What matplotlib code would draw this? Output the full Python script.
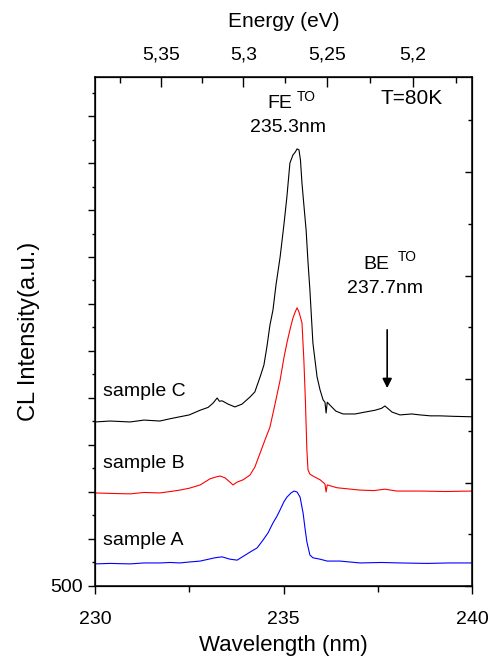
import numpy as np
import matplotlib
matplotlib.use("Agg")
import matplotlib.pyplot as plt
from matplotlib.ticker import MultipleLocator, NullFormatter, FixedLocator, FuncFormatter

plt.rcParams["font.family"] = ["Liberation Sans", "DejaVu Sans"]

# ── spectra (wavelength nm, CL intensity a.u.) ───────────────────────────────
wl_c = [230.00, 230.40, 230.93, 231.30, 231.72, 232.00, 232.25, 232.50, 232.79,
        233.00, 233.13, 233.24, 233.30, 233.37, 233.53,
        233.71, 233.90, 234.11, 234.24, 234.38, 234.48, 234.56, 234.64, 234.72,
        234.80, 234.91, 235.01, 235.09, 235.17, 235.25, 235.31, 235.36, 235.41,
        235.45, 235.49, 235.54, 235.60, 235.65, 235.70, 235.78, 235.89, 235.97,
        236.05, 236.10, 236.13, 236.16, 236.23, 236.39, 236.58, 236.90, 237.16,
        237.43, 237.60, 237.69, 237.88, 238.09, 238.40, 238.62, 238.90, 239.15,
        239.50, 240.00]
int_c = [849, 851, 849, 853, 851, 856, 860, 864, 874,
         880, 889, 900, 893, 894, 887,
         881, 887, 902, 913, 945, 970, 1009, 1055, 1087,
         1140, 1200, 1268, 1328, 1400, 1417, 1423, 1430, 1428,
         1406, 1357, 1311, 1257, 1189, 1130, 1017, 945, 917,
         896, 891, 868, 891, 885, 872, 866, 866, 870,
         874, 878, 883, 870, 864, 866, 864, 862, 862,
         861, 860]

wl_b = [230.00, 230.40, 230.93, 231.30, 231.72, 232.00, 232.25, 232.50, 232.79,
        233.05, 233.21, 233.32, 233.45,
        233.58, 233.66, 233.77, 233.93, 234.11, 234.24, 234.38, 234.51, 234.64,
        234.77, 234.91, 235.01, 235.09, 235.17, 235.25, 235.31, 235.36, 235.41,
        235.49, 235.54, 235.58, 235.62, 235.65, 235.70, 235.78, 235.97, 236.10,
        236.13, 236.16, 236.42, 237.03, 237.40, 237.69, 238.00, 238.62, 239.30,
        240.00]
int_b = [698, 697, 696, 699, 698, 701, 704, 708, 715,
         728, 732, 734, 730,
         721, 715, 721, 726, 736, 753, 783, 811, 838,
         885, 938, 985, 1017, 1045, 1070, 1083, 1092, 1083,
         1060, 981, 896, 789, 747, 738, 734, 726, 717,
         700, 715, 709, 704, 703, 706, 702, 702, 701,
         702]

wl_a = [230.00, 230.40, 230.93, 231.30, 231.72, 232.00, 232.25, 232.50, 232.79,
        233.18, 233.37, 233.58, 233.77,
        234.11, 234.30, 234.46, 234.59, 234.72, 234.83, 234.91, 235.01, 235.09,
        235.20, 235.28, 235.36, 235.44, 235.52, 235.57, 235.62, 235.70, 235.78,
        235.97, 236.16, 236.50, 237.03, 237.60, 238.09, 238.80, 239.40, 240.00]
int_a = [547, 548, 547, 549, 549, 550, 549, 551, 553,
         560, 562, 557, 555,
         572, 581, 598, 613, 634, 649, 662, 679, 689,
         698, 702, 700, 689, 655, 623, 594, 566, 560,
         557, 553, 553, 549, 550, 549, 548, 549, 549]

energy_major = [5.35, 5.30, 5.25, 5.20]
energy_minor = [5.375, 5.325, 5.275, 5.225, 5.175]
energy_labels = ["5,35", "5,3", "5,25", "5,2"]
HC = 1239.84  # eV nm

fig = plt.figure(figsize=(4.91, 6.57), dpi=100)
ax = fig.add_axes([0.1935, 0.1081, 0.7678, 0.7747])

ax.plot(wl_c, int_c, color="black", lw=0.8)
ax.plot(wl_b, int_b, color="#ff0000", lw=0.8)
ax.plot(wl_a, int_a, color="#0000ff", lw=0.8)

ax.set_xlim(230, 240)
ax.set_ylim(500, 1583)
ax.xaxis.set_major_locator(MultipleLocator(5))
ax.xaxis.set_minor_locator(MultipleLocator(2.5))
ax.yaxis.set_major_locator(MultipleLocator(100))
ax.yaxis.set_minor_locator(MultipleLocator(50))
ax.yaxis.set_major_formatter(FuncFormatter(lambda v, p: "500" if abs(v - 500) < 1 else ""))
ax.tick_params(axis="x", which="major", direction="out", length=6, width=1,
               labelsize=14, pad=12)
ax.tick_params(axis="x", which="minor", direction="out", length=4, width=1)
ax.tick_params(axis="y", which="major", direction="out", length=5, width=1,
               labelsize=14)
ax.tick_params(axis="y", which="minor", direction="out", length=2.5, width=1)
ax.set_xlabel("Wavelength (nm)", fontsize=16, labelpad=5)
ax.set_ylabel("CL Intensity(a.u.)", fontsize=17)
ax.yaxis.set_label_coords(-0.145, 0.5)
for s in ax.spines.values():
    s.set_linewidth(1.1)

# top energy axis
axt = ax.twiny()
axt.set_xlim(ax.get_xlim())
axt.set_xticks([HC / e for e in energy_major])
axt.set_xticklabels(energy_labels)
axt.xaxis.set_minor_locator(FixedLocator([HC / e for e in energy_minor]))
axt.tick_params(axis="x", which="major", direction="in", length=7, width=1,
                labelsize=14, pad=10)
axt.tick_params(axis="x", which="minor", direction="in", length=4, width=1)
axt.set_xlabel("Energy (eV)", fontsize=15, labelpad=14)

# right axis: ticks only
axr = ax.twinx()
axr.set_ylim(0, 4.92)
axr.yaxis.set_major_locator(MultipleLocator(1))
axr.yaxis.set_minor_locator(MultipleLocator(0.5))
axr.yaxis.set_major_formatter(NullFormatter())
axr.tick_params(axis="y", which="major", direction="in", length=5, width=1)
axr.tick_params(axis="y", which="minor", direction="in", length=3, width=1)

# annotations
ax.text(230.21, 913, "sample C", fontsize=14, va="center", ha="left")
ax.text(230.21, 760, "sample B", fontsize=14, va="center", ha="left")
ax.text(230.21, 596, "sample A", fontsize=14, va="center", ha="left")

ax.text(234.56, 1526, "FE", fontsize=14, va="center", ha="left")
ax.text(235.36, 1540, "TO", fontsize=10, va="center", ha="left")
ax.text(235.12, 1475, "235.3nm", fontsize=14, va="center", ha="center")
ax.text(238.41, 1538, "T=80K", fontsize=15, va="center", ha="center")

ax.text(237.11, 1185, "BE", fontsize=14, va="center", ha="left")
ax.text(238.02, 1200, "TO", fontsize=10, va="center", ha="left")
ax.text(237.69, 1134, "237.7nm", fontsize=14, va="center", ha="center")
ax.annotate("", xy=(237.75, 921), xytext=(237.75, 1045),
            arrowprops=dict(arrowstyle="-|>", color="black", lw=1.2,
                            mutation_scale=14, shrinkA=0, shrinkB=0))

fig.savefig("out.png", dpi=100)
